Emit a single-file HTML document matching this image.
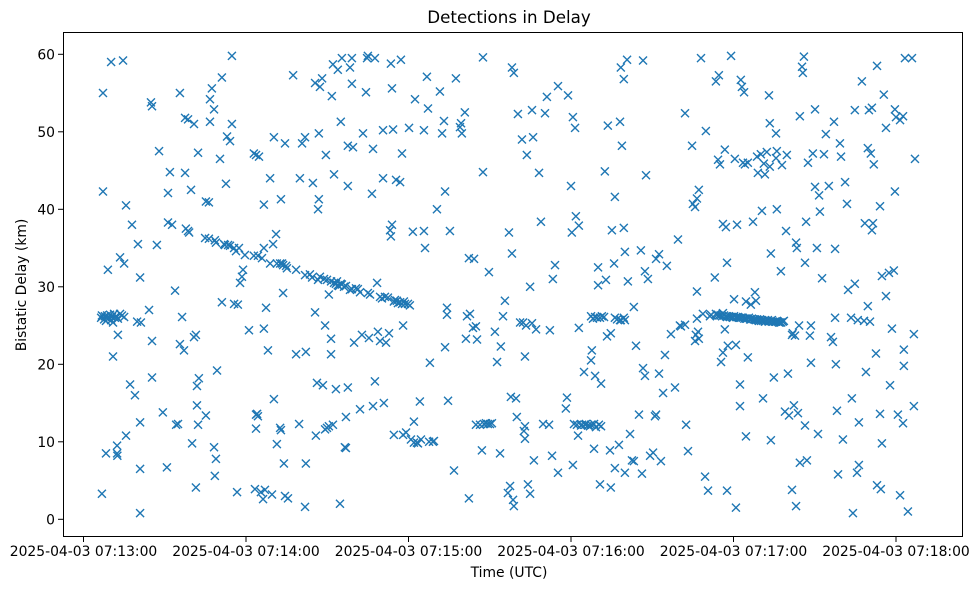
<!DOCTYPE html>
<html><head><meta charset="utf-8"><style>
html,body{margin:0;padding:0;background:#fff;}
svg{display:block;font-family:"DejaVu Sans","Liberation Sans",sans-serif;}
</style></head><body>
<svg id="chart" width="979" height="590" viewBox="0 0 979 590" xmlns="http://www.w3.org/2000/svg">
<rect x="0" y="0" width="979" height="590" fill="#fff"/>
<text x="509" y="23" font-size="16.7" text-anchor="middle" fill="#000">Detections in Delay</text>
<g id="marks"></g>
<g id="axes"></g>
<rect x="63.5" y="32.5" width="899" height="504" fill="none" stroke="#000" stroke-width="1"/>
<text x="509" y="577" font-size="13.9" text-anchor="middle" fill="#000">Time (UTC)</text>
<text x="0" y="0" font-size="13.9" text-anchor="middle" fill="#000" transform="translate(26,285) rotate(-90)">Bistatic Delay (km)</text>
</svg>
<script>
const xTickSeconds = [0, 60, 120, 180, 240, 300];
const xTickLabels = ["2025-04-03 07:13:00","2025-04-03 07:14:00","2025-04-03 07:15:00","2025-04-03 07:16:00","2025-04-03 07:17:00","2025-04-03 07:18:00"];
const yTickValues = [0, 10, 20, 30, 40, 50, 60];
const yTickLabels = ["0","10","20","30","40","50","60"];
// [seconds after 07:13:00, bistatic delay km]
const detections = [
[7.2,55],[7.2,42.3],[6.8,3.3],[8.3,8.5],[9.0,32.2],[10.2,59],[10.9,21],[12.4,8.5],[12.4,9.5],[12.5,8.2],[12.7,23.8],[13.5,33.8],[14.6,59.2],[15.0,33],[15.7,40.5],[15.7,10.8],[17.2,17.4],[17.9,38],[19.0,16],[20.1,35.5],[20.9,12.5],[20.9,6.5],[20.9,31.2],[20.9,0.8],[19.8,25.5],[21.2,25.4],[24.2,27],[25.3,18.3],[24.9,53.8],[25.3,53.3],[25.3,23],[27.1,35.4],[27.9,47.5],[29.3,13.8],[30.8,6.7],[31.2,38.3],[31.2,42.1],[31.9,44.8],[32.7,38],[33.8,29.5],[34.2,12.2],[34.9,12.3],[35.6,22.6],[35.6,55],[36.4,26.1],[37.1,21.8],[37.5,51.8],[37.5,44.7],[37.8,37.5],[38.6,51.6],[38.6,37.2],[39.0,37],[39.7,42.5],[40.1,9.8],[40.8,51],[40.8,23.5],[41.5,23.8],[41.5,4.1],[41.9,14.7],[41.9,17.2],[42.3,12.2],[42.3,47.3],[42.6,18.2],
[44.9,36.3],[45.2,41],[45.2,13.4],[46.3,40.9],[46.3,36.2],[46.7,51.3],[46.7,54.2],[47.4,55.6],[48.2,9.3],[48.2,52.9],[48.5,5.6],[48.9,7.8],[49.3,19.2],[48.5,36],[50.4,46.5],[51.1,57],[51.1,28],[51.9,35.5],[52.6,43.3],[53.0,49.4],[53.4,35.4],[54.1,35.3],[54.1,48.8],[54.8,51],[54.8,59.8],[55.6,27.8],[55.6,35],[56.3,34.6],[56.7,3.5],[57.0,27.7],[57.4,35],[57.8,30.5],[58.5,31.3],[58.9,32.2],[61.1,24.4],[62.9,47.2],[62.9,34],[63.7,13.5],[64.1,13.6],[64.4,13.3],[63.3,3.9],[63.7,47],[63.7,11.7],[64.4,34],[64.8,46.8],[65.5,3.5],[66.3,2.6],[66.6,40.6],[66.6,24.6],[67.0,3.8],[66.6,35],[67.4,27.3],[68.1,21.8],[68.9,33],[68.9,44],[69.6,3.2],[70.0,35.5],[70.3,49.3],[70.3,15.5],[71.1,36.8],[71.4,9.7],[71.4,33],[72.6,11.8],[72.6,33],[72.9,11.5],[72.9,41.3],[73.3,33],[73.7,32.8],[73.7,29.2],[74.0,7.2],[74.4,48.5],[74.4,3],[74.8,32.7],[75.5,2.7],[77.4,57.3],[78.5,32.2],[78.5,21.3],[79.6,12.3],
[79.9,44],[80.7,48.5],[81.8,1.6],[81.8,49.3],[82.1,21.6],[82.1,7.2],[83.6,31.6],[84.7,43.4],[85.5,56.3],[85.5,26.7],[85.8,10.8],[86.2,17.6],[86.6,40],[86.9,41.3],[86.9,49.8],[87.3,31.3],[87.3,55.8],[88.1,56.9],[88.4,17.3],[88.8,31],[89.2,11.6],[89.2,25],[89.5,47],[89.9,30.9],[89.9,11.8],[90.6,12],[90.6,29],[91.4,23.3],[91.4,30.7],[91.4,21.3],[91.7,54.6],[92.1,58.7],[92.1,12.2],[92.5,30.5],[92.5,44.5],[93.2,30.4],[93.2,16.8],[93.6,30.7],[93.9,30.2],[93.9,58],[94.7,2],[95.0,51.3],[95.4,59.5],[95.0,30.4],[95.4,30.3],[96.2,30],[96.5,9.3],[96.9,9.2],[96.9,30.1],[96.9,13.2],[97.6,43],[97.6,17],[97.6,48.2],[98.4,58.3],[98.4,29.6],[99.1,59.5],[99.1,56.2],[99.1,29.7],[99.5,48],[99.9,22.8],[100.6,29.8],[101.3,29.7],[102.1,14.2],[102.8,23.8],[103.2,49.8],[104.3,55.1],[104.7,59.5],[105.0,59.8],[105.0,29.2],[105.4,23.4],[105.8,29],[106.5,42],[106.9,47.8],[106.9,14.6],[107.6,17.8],[107.6,59.5],[108.4,30.5],[108.7,24.2],[109.5,28.7],[109.5,23],[110.2,28.5],[110.6,50.2],[110.6,44],[110.9,15],[111.7,22.8],[112.4,28.6],[112.8,24],[113.2,37.3],[113.5,36.5],[113.5,58.8],[113.9,38],[113.9,55.6],[114.3,50.3],[114.6,28.1],[114.6,10.9],[115.4,43.8],[115.7,28.2],[116.1,27.9],
[116.9,43.5],[116.9,28],[117.2,59.3],[117.6,47.2],[117.6,27.8],[118.0,10.9],[118.0,25],[118.3,28.1],[118.7,27.8],[119.1,11.2],[119.8,27.8],[120.2,50.5],[120.5,27.6],[120.9,10.3],[121.6,37.1],[122.0,12.6],[122.0,9.9],[122.4,54.2],[123.1,9.9],[123.5,9.8],[124.2,15.2],[124.6,10.3],[125.7,37.2],[125.7,50.2],[126.1,35],[126.8,57.1],[127.2,53],[127.6,10],[127.9,20.2],[129.0,10],[129.4,10.1],[130.5,40],[131.6,55.2],[132.4,49.8],[133.1,51.4],[133.5,22.2],[133.5,42.3],[134.2,27.3],[134.2,26.4],[134.6,15.3],[135.3,37.2],[136.8,6.3],[137.5,56.9],[139.0,50.6],[139.4,51.1],[139.7,49.8],[140.8,52.5],[141.2,23.3],[141.6,26.2],[142.3,33.7],[142.3,2.7],[142.7,26.5],[143.8,24.7],[144.2,33.6],[144.9,12.2],[144.9,24.9],[145.3,23.2],[146.4,12.2],[147.1,8.9],[147.5,59.6],[147.5,44.8],[147.9,12.3],[148.6,12.4],[149.3,12.3],[149.7,31.9],[150.1,12.3],[150.8,12.4],[151.9,24.2],[152.7,20.3],
[153.8,8.5],[154.1,22.3],[154.9,26.2],[155.6,28.2],[156.7,3.4],[157.1,37],[157.5,4.3],[157.8,15.8],[158.2,34.3],[158.2,58.3],[158.6,2.5],[158.9,57.6],[158.9,1.7],[159.7,15.6],[160.0,13.2],[160.4,52.3],[161.2,25.4],[161.9,49],[162.3,25.4],[162.6,11.4],[163.0,12],[163.0,10.4],[163.0,21],[163.4,25],[163.7,47],[164.1,4.5],[164.9,3.3],[164.9,30],[165.6,25.3],[165.6,52.8],[166.0,49.3],[166.3,7.6],[167.1,24.5],[168.2,44.7],[168.9,38.4],[169.7,12.3],[170.4,52.4],[171.1,54.5],[171.9,12.2],[172.2,24.4],[173.0,8.2],[173.3,31],[174.1,32.8],[175.2,6],[175.2,55.9],[178.1,14.3],[178.5,15.7],[178.9,54.7],[180.0,43],[180.3,37],[180.7,7],[180.7,51.9],[181.1,12.3],[181.5,50.5],[181.8,39.1],[182.2,12.2],[182.6,10.8],[182.9,37.9],[182.9,24.7],[183.7,12.1],[184.1,12.2],[184.8,19],[185.2,12.2],[185.5,12.3],[186.3,12.1],[187.0,12],[187.4,12.2],[187.4,20.5],[187.4,26.2],[187.7,21.8],[188.1,25.9],[188.5,12.3],[188.5,9.1],[188.9,26.1],[188.9,18.5],[189.2,11.9],[189.6,26],[190.0,30.2],[190.0,32.5],[190.3,12.2],
[190.7,26],[190.7,4.5],[191.1,12],[191.1,17.5],[191.4,26.2],[192.2,26.1],[192.5,44.9],[192.9,30.9],[193.3,23.6],[193.6,50.8],[194.4,8.9],[194.7,24],[194.7,4.1],[195.1,37.3],[195.9,33],[196.2,26],[196.2,41.6],[196.2,6.6],[197.0,25.8],[197.7,9.6],[198.1,25.7],[198.1,51.3],[198.4,25.7],[198.4,58.3],[198.8,48.2],[199.5,26],[199.5,56.8],[199.5,37.6],[199.9,34.5],[199.9,6],[199.9,25.7],[200.7,59.3],[201.0,30.7],[201.8,11],[202.5,7.6],[203.2,27.4],[203.2,7.5],[204.0,22.4],[205.1,13.5],[205.8,34.7],[206.2,5.9],[206.6,59.2],[206.6,19.5],[207.3,18.5],[207.3,32],[207.7,44.4],[208.4,31],[209.2,8.2],[210.3,8.6],[211.0,13.3],[211.4,33.6],[211.4,13.5],[212.5,18.8],[212.5,34.2],[213.2,7.5],[214.0,16.3],[214.7,21.2],[215.4,32.7],[216.9,23.9],[218.4,17],[219.5,36.1],[220.2,25],[220.6,24.9],[222.1,52.4],[222.1,25.1],[222.5,12.2],[223.2,8.8],[224.7,48.2],[225.0,40.7],[225.8,23],[225.8,40.3],[226.1,23.8],[226.5,41.4],[226.5,25.9],[226.5,29.4],[226.9,24.2],[227.2,42.5],[227.2,23.3],
[228.0,59.5],[228.7,26.5],[229.5,5.5],[229.8,50.1],[230.6,3.7],[231.3,26.2],[231.7,26.4],[233.1,31.2],[233.5,56.5],[233.5,26.5],[233.9,26.4],[234.3,46.4],[234.6,57.3],[235.0,45.8],[235.4,20.3],[236.1,38.1],[236.1,26.6],[236.1,21.5],[236.8,24.5],[236.8,47.7],[237.2,37.7],[237.2,26.2],[237.6,26.1],[237.6,3.7],[237.6,33.1],[237.9,22.4],[238.3,26.2],[239.1,59.8],[239.8,26],[240.2,26.2],[240.2,28.4],[240.5,46.5],[240.9,22.5],[240.9,1.5],[241.3,38],[241.6,26.1],[242.4,17.4],[242.4,14.6],[242.7,56.7],[242.7,26],[243.1,55.8],[243.5,46],[243.9,55.1],[244.2,45.8],[244.6,10.7],[244.6,28.1],[244.6,25.9],[245.3,46],[245.3,20.9],[245.7,26],[246.1,25.8],[246.4,27.7],[246.8,25.9],[247.2,38.4],[247.9,29.3],[247.9,25.8],[248.3,28.2],[248.7,46.8],[248.7,25.8],[249.0,44.7],[249.4,25.6],[249.8,25.8],[250.1,47.1],[250.5,39.8],[250.5,25.7],[250.9,15.6],[251.2,45.9],[251.6,44.5],[251.6,25.5],[252.3,47.4],[252.7,25.7],[253.1,54.7],[253.4,51.1],[253.4,45.5],[253.8,34.3],[253.8,10.2],[254.2,25.7],[254.9,18.3],[255.3,25.5],[255.7,49.8],[255.7,46.6],[256.0,47.5],[256.0,40],[256.4,25.5],[257.1,25.4],[257.5,32],[257.9,45.7],[258.2,25.5],[258.6,25.6],[259.0,13.9],[259.4,37.2],[259.7,47],[260.1,18.8],[260.5,13.4],[261.6,3.8],[261.6,23.8],[261.9,24],[262.3,14.7],[262.7,23.7],[263.1,1.7],[263.1,35.7],[263.4,35],[263.8,13.7],[264.2,25],
[264.5,7.3],[264.5,52],[265.3,58.4],[265.6,57.6],[266.0,59.7],[266.4,12.1],[266.4,33.1],[266.8,38.4],[267.1,7.6],[267.5,46],[268.2,23.7],[268.6,25],[268.6,20.2],[269.3,47.2],[270.1,42.9],[270.1,52.9],[270.8,35],[271.2,11],[271.6,41.8],[271.9,39.7],[272.7,31.1],[273.4,47.1],[274.1,49.7],[275.2,43],[276.0,23.5],[276.7,22.9],[277.1,51.3],[277.5,34.9],[277.5,26],[277.8,20],[278.2,14],[278.6,5.8],[279.3,48.5],[279.7,46.8],[280.4,10.3],[281.2,43.5],[281.9,40.7],[283.4,26],[283.7,15.6],[284.1,0.8],[284.8,30.4],[284.8,52.8],[285.6,6],[285.9,25.7],[286.3,12.5],[286.3,7],[287.4,56.5],[288.2,25.6],[288.5,38.2],[288.9,19],[289.6,47.9],[290.0,52.8],[290.4,25.5],[290.7,47.2],[291.1,53.1],[291.5,38.2],[291.8,45.8],[292.6,21.4],[293.0,4.4],[293.0,58.5],[294.1,13.6],[294.1,40.4],[294.4,3.9],[294.8,31.4],[294.8,9.8],[295.5,54.8],[296.3,50.5],[296.3,28.8],[297.4,31.8],[298.5,24.6],[299.2,32.1],[300.0,51.9],[299.6,52.9],[300.7,13.5],[301.5,3.1],[301.5,51.5],[302.6,52],[302.6,12.4],[302.9,21.9],[302.9,19.8],[303.3,59.5],[304.4,1],[305.9,59.5],[306.6,23.9],[306.6,14.6],[307.0,46.5],[299.6,42.3],[297.8,17.3],[291.1,37.3],[289.6,27.5],[282.3,29.6],
[6.5,26],[6.8,26.3],[7.6,25.8],[7.9,26.2],[8.3,25.6],[8.7,26.3],[9.0,25.9],[9.8,26.4],[10.2,25.7],[10.5,26.1],[10.9,25.4],[11.3,26.5],[11.6,26],[12.0,26.2],[12.7,25.9],[13.5,26.5],[14.2,26.3],[15.0,26.1],
[48.9,35.7],[52.2,35.4],[59.6,34.1],[65.9,33.7],[75.1,32.4],[81.8,31.5],[84.4,31.2],[86.6,30.9],[94.3,30.1],[102.1,29.3],[111.3,28.7],[115.0,28.3],
[234.5,26.3],[235.2,26.3],[235.8,26.2],[236.5,26.3],[238.7,26.1],[239.4,26.1],[241.0,26.1],[242.0,26],[243.4,26],[244.0,25.9],[245.0,25.9],[246.5,25.8],[247.5,25.8],[248.2,25.7],[249.0,25.7],[250.2,25.6],[251.0,25.6],[252.0,25.6],[253.0,25.5],[253.7,25.6],[254.6,25.5],[255.8,25.5],[256.8,25.4],[257.6,25.4]
];

const NS = "http://www.w3.org/2000/svg";
function xScale(s){ return 83.5 + s * (162.5 / 60); }
function yScale(v){ return 519.3 - v * 7.75; }

const marks = document.getElementById('marks');
detections.forEach(function(d){
  const cx = xScale(d[0]), cy = yScale(d[1]), r = 4;
  const p = document.createElementNS(NS, 'path');
  p.setAttribute('d', 'M'+(cx-r)+' '+(cy-r)+'L'+(cx+r)+' '+(cy+r)+'M'+(cx-r)+' '+(cy+r)+'L'+(cx+r)+' '+(cy-r));
  p.setAttribute('stroke', '#1f77b4');
  p.setAttribute('stroke-width', '1.4');
  p.setAttribute('fill', 'none');
  
  
  marks.appendChild(p);
});

const axes = document.getElementById('axes');
xTickSeconds.forEach(function(s, i){
  const x = xScale(s);
  const t = document.createElementNS(NS, 'line');
  t.setAttribute('x1', x); t.setAttribute('x2', x);
  t.setAttribute('y1', 537); t.setAttribute('y2', 542);
  t.setAttribute('stroke', '#000'); t.setAttribute('stroke-width', '1');
  
  
  axes.appendChild(t);
  const l = document.createElementNS(NS, 'text');
  l.setAttribute('x', x); l.setAttribute('y', 556);
  l.setAttribute('font-size', '13.9'); l.setAttribute('text-anchor', 'middle');
  l.textContent = xTickLabels[i];
  
  
  axes.appendChild(l);
});
yTickValues.forEach(function(v, i){
  const y = yScale(v);
  const t = document.createElementNS(NS, 'line');
  t.setAttribute('x1', 58); t.setAttribute('x2', 63);
  t.setAttribute('y1', y); t.setAttribute('y2', y);
  t.setAttribute('stroke', '#000'); t.setAttribute('stroke-width', '1');
  
  
  axes.appendChild(t);
  const l = document.createElementNS(NS, 'text');
  l.setAttribute('x', 55); l.setAttribute('y', y + 5);
  l.setAttribute('font-size', '13.9'); l.setAttribute('text-anchor', 'end');
  l.textContent = yTickLabels[i];
  
  
  axes.appendChild(l);
});
</script>
</body></html>
